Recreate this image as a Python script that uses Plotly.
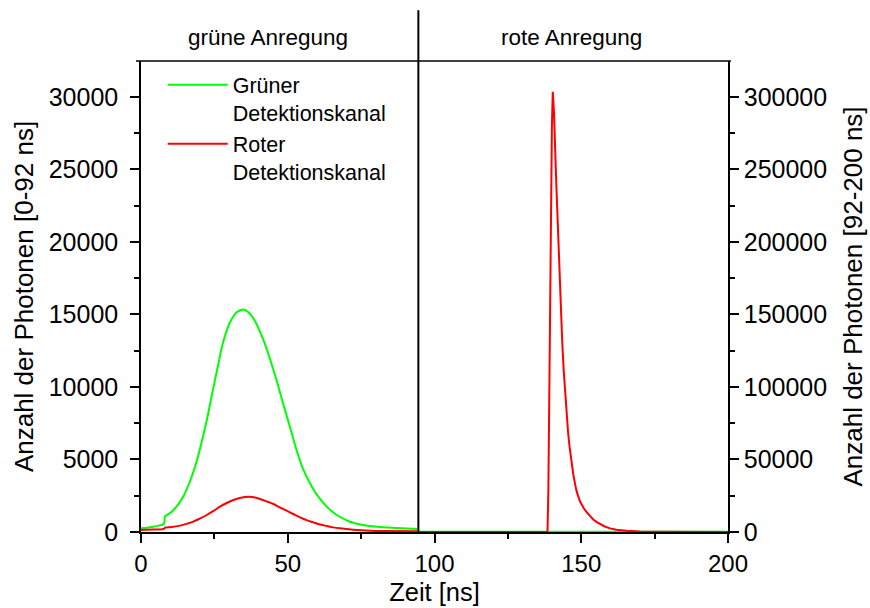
import plotly.graph_objects as go

# ---- data ----
green_left_t = [0, 2, 4, 6, 7.8, 8.2, 9.5, 11, 12.5, 14.4, 16.7, 19.0, 20.7, 22.4, 24.1, 25.8, 28.0,
                30.3, 32.6, 34.9, 36.6, 38.8, 41.7, 44.0, 46.2, 48.5, 50.8, 53.0, 55.3, 57.6, 59.9,
                63.3, 66.7, 71.2, 75.7, 81.4, 87.1, 94.2]
green_left_v = [260, 300, 360, 440, 560, 1080, 1250, 1500, 1850, 2450, 3500, 4900, 6250, 7700, 9400,
                11050, 13100, 14450, 15150, 15350, 15150, 14550, 13250, 11900, 10450, 8800, 7200,
                5650, 4300, 3350, 2580, 1750, 1170, 710, 480, 345, 280, 210]

red_left_t = [0, 4, 7.8, 8.2, 10.5, 13.3, 15.5, 17.8, 20, 22.4, 24.7, 26.9, 29.2, 31.5, 34, 36.6,
              38.5, 40.5, 42.8, 45.1, 47.3, 49.6, 51.9, 54.2, 56.4, 58.7, 61, 63.3, 65.5, 67.8,
              72.3, 78.0, 83.7, 94.2]
red_left_v = [140, 170, 210, 300, 340, 440, 560, 713, 920, 1172, 1450, 1747, 2000, 2207, 2360, 2437,
              2400, 2276, 2110, 1931, 1700, 1471, 1240, 1011, 820, 667, 520, 414, 320, 253,
              161, 92, 69, 46]

red_right_t = [94.5, 138.5, 138.8, 139.4, 140.0, 140.3, 140.7, 141.5, 142.4, 143.0, 143.5, 144.0,
               144.5, 145.0, 145.5, 146.0, 146.5, 147.3, 148.0, 148.5, 149.6, 150.8, 151.9, 153.0,
               154.1, 155.3, 156.4, 158.0, 159.8, 162.0, 165.5, 170, 180, 200]
red_right_v = [0, 0, 30000, 170000, 280000, 303500, 290000, 240000, 185000, 155000, 132000, 112000,
               95000, 81000, 69000, 59000, 50500, 39500, 32000, 27500, 21000, 16500, 13500, 10800,
               8600, 6800, 5400, 3800, 2500, 1500, 800, 300, 100, 50]

green_right_t = [94.5, 138.5, 150, 165, 200]
green_right_v = [100, 100, 600, 300, 100]

x_ticks = [0, 50, 100, 150, 200]
split_t = 94.5
headers = ["grüne Anregung", "rote Anregung"]
names = ["Grüner<br>Detektionskanal", "Roter<br>Detektionskanal"]

GREEN = "#00FF00"
RED = "#FF0000"
FONT = "Liberation Sans, Arial, sans-serif"

fig = go.Figure()
fig.add_trace(go.Scatter(x=green_left_t, y=green_left_v, mode="lines", name=names[0],
                         line=dict(color=GREEN, width=2, shape="spline", smoothing=1.0)))
fig.add_trace(go.Scatter(x=red_left_t, y=red_left_v, mode="lines", name=names[1],
                         line=dict(color=RED, width=2, shape="spline", smoothing=1.0)))
fig.add_trace(go.Scatter(x=green_right_t, y=green_right_v, mode="lines", showlegend=False,
                         line=dict(color=GREEN, width=2), yaxis="y2"))
fig.add_trace(go.Scatter(x=red_right_t, y=red_right_v, mode="lines", showlegend=False,
                         line=dict(color=RED, width=2), yaxis="y2"))

axis_common = dict(showline=True, linecolor="black", linewidth=1.5, showgrid=False, zeroline=False,
                   ticks="outside", ticklen=9, tickwidth=1.5, tickcolor="black", automargin=False,
                   tickformat="d")
minor_common = dict(ticks="outside", ticklen=5, tickwidth=1.5, tickcolor="black", showgrid=False)
yfont = dict(family=FONT, size=25, color="black")
xfont = dict(family=FONT, size=24, color="black")

fig.update_layout(
    width=870, height=608,
    margin=dict(l=141, r=142, t=61, b=76),
    plot_bgcolor="white", paper_bgcolor="white",
    font=dict(family=FONT, color="black"),
    xaxis=dict(range=[0, 200], tickvals=x_ticks, minor=dict(dtick=25, **minor_common),
               title=dict(text="Zeit [ns]", font=dict(family=FONT, size=25.5), standoff=8),
               ticklabelstandoff=0, tickfont=xfont, **axis_common),
    yaxis=dict(range=[0, 32480], dtick=5000, minor=dict(dtick=2500, **minor_common),
               title=dict(text="Anzahl der Photonen [0-92 ns]", font=dict(family=FONT, size=26), standoff=8),
               ticklabelstandoff=7, tickfont=yfont, **axis_common),
    yaxis2=dict(range=[0, 324800], dtick=50000, minor=dict(dtick=25000, **minor_common),
                overlaying="y", side="right", anchor="x",
                title=dict(text="Anzahl der Photonen [92-200 ns]", font=dict(family=FONT, size=26), standoff=18),
                ticklabelstandoff=0, tickfont=yfont, **axis_common),
    legend=dict(x=0.037, y=0.993, xanchor="left", yanchor="top", bgcolor="rgba(0,0,0,0)",
                font=dict(family=FONT, size=21.5, color="black"), valign="top",
                tracegroupgap=0, itemwidth=60),
    showlegend=True,
)

# divider between the two excitation windows and header frame line
fig.add_shape(type="line", xref="x", yref="paper", x0=split_t, x1=split_t, y0=0, y1=1.108,
              line=dict(color="black", width=2))
fig.add_shape(type="line", xref="paper", yref="paper", x0=-0.0085, x1=1.005, y0=1, y1=1,
              line=dict(color="black", width=1.5))

fig.add_annotation(text=headers[0], xref="paper", yref="paper", x=0.217, y=1.049,
                   xanchor="center", yanchor="middle",
                   showarrow=False, font=dict(family=FONT, size=22.5, color="black"))
fig.add_annotation(text=headers[1], xref="paper", yref="paper", x=0.7334, y=1.049,
                   xanchor="center", yanchor="middle",
                   showarrow=False, font=dict(family=FONT, size=22.5, color="black"))

fig.write_html("out.html")
